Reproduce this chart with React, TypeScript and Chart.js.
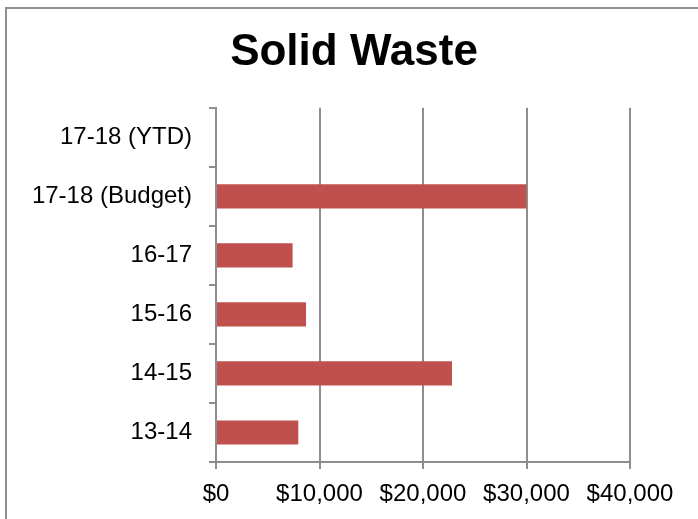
import React, { useEffect, useRef } from "react";
import { Chart, registerables } from "chart.js";

Chart.register(...registerables);

const categories = ["17-18 (YTD)", "17-18 (Budget)", "16-17", "15-16", "14-15", "13-14"];
const values = [0, 30000, 7400, 8700, 22800, 7950];
const xTicks = [0, 10000, 20000, 30000, 40000];
const titleText = "Solid Waste";

const FONT = "'Liberation Sans', Arial, sans-serif";
const GRID = "#8e8e8e";

export default function App() {
  const ref = useRef<HTMLCanvasElement | null>(null);

  useEffect(() => {
    if (!ref.current) return;
    const chart = new Chart(ref.current, {
      type: "bar",
      data: {
        labels: categories,
        datasets: [
          {
            data: values,
            backgroundColor: "#c0504d",
            borderWidth: 0,
            categoryPercentage: 1,
            barPercentage: 0.41,
          },
        ],
      },
      options: {
        indexAxis: "y",
        responsive: false,
        animation: false,
        layout: { padding: { left: 10, right: 0, top: 0, bottom: 0 } },
        plugins: {
          legend: { display: false },
          tooltip: { enabled: false },
          title: {
            display: true,
            text: titleText,
            color: "#000",
            font: { family: FONT, size: 44, weight: "bold" },
            padding: { top: 26, bottom: 29 },
          },
        },
        scales: {
          x: {
            min: xTicks[0],
            max: xTicks[xTicks.length - 1],
            afterBuildTicks: (axis: any) => {
              axis.ticks = xTicks.map((v) => ({ value: v }));
            },
            afterFit: (axis: any) => {
              axis.height = 57;
              axis.paddingLeft = 0;
              axis.paddingRight = 68;
            },
            grid: {
              color: GRID,
              lineWidth: 2,
              tickLength: 7,
              drawOnChartArea: true,
            },
            border: { display: true, color: GRID, width: 2 },
            ticks: {
              color: "#000",
              font: { family: FONT, size: 24 },
              padding: 11,
              maxRotation: 0,
              callback: (v: any) => "$" + Number(v).toLocaleString("en-US"),
            },
          },
          y: {
            afterFit: (axis: any) => {
              axis.width = 206;
            },
            grid: {
              color: GRID,
              lineWidth: 2,
              tickLength: 7,
              drawOnChartArea: false,
            },
            border: { display: true, color: GRID, width: 2 },
            ticks: {
              color: "#000",
              font: { family: FONT, size: 24 },
              padding: 17,
            },
          },
        },
      },
    });
    return () => chart.destroy();
  }, []);

  return (
    <div style={{ position: "fixed", left: 0, top: 0, width: 698, height: 519, overflow: "hidden", background: "#fff" }}>
      <div
        style={{
          position: "absolute",
          left: 5,
          top: 7,
          width: 800,
          height: 700,
          border: "2px solid #8e8e8e",
          boxSizing: "border-box",
        }}
      />
      <canvas ref={ref} width={698} height={519} style={{ position: "absolute", left: 0, top: 0 }} />
    </div>
  );
}
